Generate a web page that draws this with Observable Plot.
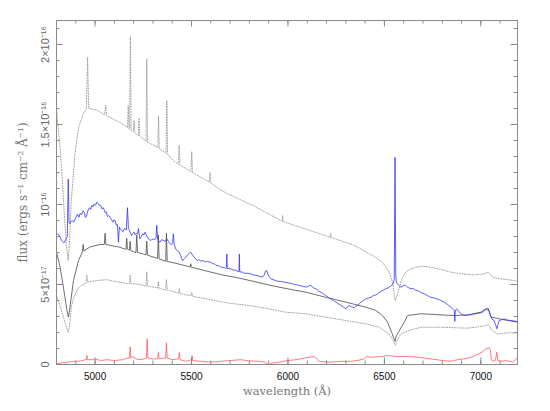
<!DOCTYPE html>
<html><head><meta charset="utf-8">
<script src="https://cdn.jsdelivr.net/npm/d3@7"></script>
<script src="https://cdn.jsdelivr.net/npm/@observablehq/plot@0.6"></script>
<style>body{margin:0;background:#fff}</style>
</head><body><div id="chart"></div>
<script>
// flux values in units of 1e-17 ergs s^-1 cm^-2 Å^-1
const xTicks = [5000, 5500, 6000, 6500, 7000];
const xMinorTicks = d3.range(4800, 7200, 100);
const yTicks = [0, 5, 10, 15, 20];
const yTickLabels = ["0", "5×10⁻¹⁷", "10⁻¹⁶", "1.5×10⁻¹⁶", "2×10⁻¹⁶"];
const yMinorTicks = d3.range(0, 22, 1);

// upper dotted model
const upperWave = [4800,4818,4827,4840,4852,4861,4868,4877,4896,4914,4940,4955,4961,4967,4974,5009,5050,5055,5060,5100,5147,5168,5172,5176,5179,5183,5187,5198,5202,5206,5224,5228,5232,5251,5264,5268,5272,5320,5325,5329,5333,5368,5372,5376,5406,5432,5436,5440,5493,5497,5501,5505,5579,5592,5596,5600,5652,5683,5824,5963,5970,5972,5975,6170,6220,6222,6225,6343,6440,6490,6525,6542,6550,6556,6562,6577,6590,6611,6637,6689,6741,6793,6845,6897,6966,7017,7038,7061,7104,7173,7190];
const upperFlux = [15.9,13.6,12.1,9.5,7.3,6.5,7.8,10.25,13.2,14.8,15.7,15.95,19.2,16.0,16.0,15.9,15.6,16.2,15.55,15.3,15.0,14.8,16.2,14.75,14.7,20.5,14.65,14.55,15.25,14.5,14.3,15.4,14.25,14.1,13.95,19.1,13.9,13.6,13.55,15.5,13.5,13.2,16.5,13.15,12.75,12.5,13.7,12.45,12.1,12.05,13.3,12.0,11.5,11.4,12.0,11.35,10.9,10.7,9.9,9.0,8.95,9.3,8.93,8.15,7.95,8.2,7.93,7.45,6.8,6.4,5.77,5.15,4.5,4.0,4.2,4.73,5.35,5.77,5.98,6.15,6.08,5.94,5.77,5.67,5.6,5.67,5.77,5.46,5.35,5.25,5.2];

// lower dotted model
const lowerWave = [4800,4820,4840,4855,4862,4870,4877,4890,4905,4920,4940,4953,4957,4961,5009,5061,5100,5147,5178,5182,5186,5233,5264,5268,5272,5320,5324,5328,5332,5366,5370,5374,5406,5433,5437,5441,5493,5497,5501,5505,5579,5683,5824,5989,6093,6196,6300,6404,6473,6525,6545,6556,6565,6585,6620,6689,6793,6931,7017,7038,7061,7087,7138,7190];
const lowerFlux = [4.3,3.6,2.8,2.2,2.0,2.7,3.6,4.2,4.6,4.85,5.0,5.1,5.6,5.15,5.25,5.3,5.2,5.1,5.05,5.6,5.05,5.0,4.9,5.8,4.9,4.8,4.78,5.2,4.76,4.65,5.3,4.63,4.56,4.45,4.75,4.43,4.3,4.28,4.5,4.26,4.1,3.85,3.65,3.27,3.17,2.96,2.75,2.54,2.33,1.9,1.5,1.2,1.5,1.9,2.1,2.33,2.33,2.27,2.4,2.5,2.1,1.9,1.98,1.98];

// black model
const modelWave = [4800,4815,4827,4844,4855,4862,4870,4888,4914,4935,4938,4942,4974,5026,5048,5052,5056,5078,5121,5160,5164,5168,5178,5182,5186,5212,5216,5220,5251,5264,5268,5272,5320,5324,5328,5332,5366,5370,5374,5393,5493,5496,5499,5565,5652,5738,5824,5911,6011,6093,6196,6300,6404,6455,6490,6516,6538,6550,6555,6562,6577,6603,6620,6689,6793,6862,6931,7000,7026,7038,7052,7078,7138,7190];
const modelFlux = [7.0,6.3,5.5,4.2,3.3,2.96,3.6,5.25,6.5,7.05,7.5,7.1,7.35,7.5,7.5,8.2,7.5,7.45,7.35,7.2,7.9,7.2,7.15,7.7,7.1,7.0,8.1,7.0,6.9,6.85,7.7,6.83,6.65,6.63,8.1,6.6,6.45,8.2,6.43,6.4,6.1,6.3,6.08,5.88,5.62,5.42,5.19,4.94,4.7,4.52,4.2,3.9,3.58,3.38,3.06,2.65,2.0,1.6,1.45,1.8,2.1,2.65,3.06,3.17,3.1,3.06,3.1,3.27,3.48,3.5,2.96,2.9,2.75,2.65];

// blue observed spectrum
const obsWave = [4800,4815,4827,4839,4850,4856,4861,4865,4868,4880,4889,4897,4909,4916,4923,4930,4937,4944,4949,4955,4962,4971,4977,4983,4989,4995,5002,5009,5016,5023,5029,5035,5043,5052,5058,5064,5071,5078,5085,5092,5098,5104,5110,5116,5121,5126,5130,5137,5144,5150,5156,5162,5168,5173,5178,5184,5190,5196,5202,5208,5214,5220,5225,5229,5233,5240,5247,5253,5259,5265,5272,5278,5285,5293,5303,5310,5316,5320,5324,5330,5337,5345,5355,5363,5372,5380,5389,5396,5402,5406,5410,5418,5427,5436,5444,5453,5462,5470,5480,5490,5496,5505,5514,5522,5531,5540,5548,5556,5565,5574,5583,5592,5600,5609,5618,5626,5635,5644,5652,5660,5669,5676,5681,5683,5685,5692,5704,5715,5730,5741,5746,5748,5750,5764,5775,5790,5807,5820,5842,5855,5868,5877,5884,5890,5897,5904,5911,5925,5946,5960,5980,5995,6011,6024,6040,6058,6075,6093,6105,6119,6132,6145,6158,6170,6183,6196,6209,6222,6235,6248,6261,6274,6287,6300,6308,6317,6326,6335,6344,6352,6361,6370,6378,6391,6404,6417,6430,6442,6455,6468,6481,6494,6507,6520,6533,6545,6551,6555,6559,6563,6568,6577,6585,6596,6607,6620,6637,6650,6660,6672,6690,6706,6724,6741,6758,6775,6793,6810,6827,6845,6856,6862,6865,6868,6876,6886,6897,6910,6922,6935,6948,6960,6974,6987,7000,7013,7026,7036,7043,7050,7056,7069,7076,7083,7089,7095,7108,7121,7138,7155,7172,7190];
const obsFlux = [8.2,8.06,7.75,7.6,7.85,8.0,11.6,8.9,8.8,9.0,8.9,9.1,9.4,9.2,9.45,9.35,9.6,9.5,9.2,9.25,9.6,9.8,9.7,9.94,9.85,10.04,9.95,10.15,10.05,9.94,9.95,9.73,9.8,9.5,9.55,9.25,9.3,9.2,9.05,8.9,9.05,9.0,8.7,8.75,7.65,8.6,8.5,8.4,8.3,8.45,8.5,8.4,9.8,8.5,8.4,8.2,8.06,8.2,8.27,8.1,8.2,8.15,8.5,8.1,7.85,8.0,8.17,8.1,8.27,8.1,7.96,7.85,7.75,7.8,7.85,7.8,7.9,8.7,7.85,7.7,7.65,7.8,7.75,7.7,7.85,7.7,7.54,7.5,7.6,8.17,7.5,7.23,7.1,7.02,6.8,6.5,6.6,6.7,6.85,6.95,7.02,6.85,6.7,6.6,6.5,6.55,6.45,6.5,6.46,6.4,6.45,6.4,6.4,6.3,6.3,6.2,6.19,6.15,6.1,6.05,6.08,6.0,6.05,6.9,6.0,6.0,5.98,5.9,5.9,5.8,5.8,6.9,5.8,5.77,5.7,5.7,5.67,5.6,5.56,5.5,5.46,5.6,5.85,5.88,5.6,5.45,5.35,5.3,5.2,5.2,5.15,5.12,5.08,5.04,5.0,4.94,4.9,4.83,4.9,4.94,4.8,4.73,4.6,4.52,4.42,4.31,4.2,4.1,4.0,3.9,3.8,3.7,3.6,3.48,3.6,3.69,3.62,3.58,3.55,3.65,3.69,3.8,3.9,4.0,4.1,4.15,4.2,4.3,4.35,4.45,4.56,4.65,4.73,4.8,4.9,5.04,5.3,12.95,5.5,5.1,5.04,4.94,4.83,4.9,4.98,4.83,4.73,4.75,4.65,4.63,4.5,4.42,4.3,4.2,4.15,4.1,4.0,3.9,3.75,3.58,3.45,3.375,2.69,3.4,3.48,3.3,3.17,3.1,3.06,3.1,3.1,3.15,3.17,3.2,3.23,3.3,3.44,3.4,3.375,3.1,2.85,2.75,2.5,2.23,2.5,2.75,2.8,2.85,2.78,2.75,2.72,2.69];

// red residual
const residWave = [4800,4830,4860,4890,4926,4950,4955,4957,4960,4990,5000,5030,5060,5100,5146,5165,5178,5182,5186,5200,5210,5240,5266,5270,5274,5300,5324,5328,5332,5366,5370,5374,5400,5433,5437,5441,5470,5500,5503,5506,5550,5600,5650,5700,5756,5800,5850,5877,5900,5920,5960,5997,6040,6084,6110,6135,6150,6160,6200,6222,6280,6326,6360,6395,6410,6430,6480,6525,6560,6620,6680,6741,6800,6845,6880,6914,6950,6983,7010,7026,7043,7050,7053,7060,7075,7083,7088,7110,7130,7164,7180,7190];
const residFlux = [0.05,0.1,0.15,0.2,0.22,0.3,0.3,0.56,0.3,0.3,0.35,0.25,0.3,0.25,0.3,0.4,0.4,1.1,0.4,0.5,0.35,0.3,0.4,1.6,0.4,0.35,0.35,0.75,0.35,0.4,1.35,0.4,0.3,0.35,0.75,0.3,0.2,0.3,0.56,0.25,0.2,0.15,0.2,0.25,0.3,0.22,0.2,0.15,0.0,0.1,0.15,0.25,0.3,0.4,0.45,0.5,0.35,0.2,0.15,0.15,0.2,0.2,0.25,0.35,0.5,0.45,0.5,0.56,0.5,0.5,0.45,0.35,0.25,0.2,0.3,0.35,0.45,0.63,0.8,0.98,1.04,0.9,0.4,0.2,0.25,0.77,0.25,0.2,0.25,0.15,0.3,0.45];

const W = 550, H = 411, mL = 56, mR = 33, mT = 20, mB = 47;
const innerW = W - mL - mR, innerH = H - mT - mB;
const frameColor = "#8a8a8a";
const series = (wv, fx) => wv.map((w, i) => ({w, f: fx[i]}));
const center = {textAnchor: "middle", lineAnchor: "middle"};

const chart = Plot.plot({
  width: W, height: H,
  marginLeft: mL, marginRight: mR, marginTop: mT, marginBottom: mB,
  x: {domain: [4800, 7190], axis: null},
  y: {domain: [0, 21.5], axis: null},
  style: {fontFamily: "'Liberation Sans', Arial, sans-serif", background: "#fff"},
  marks: [
    // inward ticks
    Plot.tickX(xMinorTicks, {x: d => d, insetTop: innerH - 3.5, stroke: frameColor}),
    Plot.tickX(xMinorTicks, {x: d => d, insetBottom: innerH - 3.5, stroke: frameColor}),
    Plot.tickX(xTicks, {x: d => d, insetTop: innerH - 6.5, stroke: frameColor}),
    Plot.tickX(xTicks, {x: d => d, insetBottom: innerH - 6.5, stroke: frameColor}),
    Plot.tickY(yMinorTicks, {y: d => d, insetRight: innerW - 3.5, stroke: frameColor}),
    Plot.tickY(yMinorTicks, {y: d => d, insetLeft: innerW - 3.5, stroke: frameColor}),
    Plot.tickY(yTicks, {y: d => d, insetRight: innerW - 6.5, stroke: frameColor}),
    Plot.tickY(yTicks, {y: d => d, insetLeft: innerW - 6.5, stroke: frameColor}),
    // spectra
    Plot.line(series(residWave, residFlux), {x: "w", y: "f", stroke: "#ff5a5a", strokeWidth: 0.8}),
    Plot.line(series(upperWave, upperFlux), {x: "w", y: "f", stroke: "#999", strokeWidth: 0.9, strokeDasharray: "1,1.6"}),
    Plot.line(series(lowerWave, lowerFlux), {x: "w", y: "f", stroke: "#999", strokeWidth: 0.9, strokeDasharray: "1,1.6"}),
    Plot.line(series(modelWave, modelFlux), {x: "w", y: "f", stroke: "#4a4a4a", strokeWidth: 0.8}),
    Plot.line(series(obsWave, obsFlux), {x: "w", y: "f", stroke: "#3333ff", strokeWidth: 0.8}),
    Plot.frame({stroke: frameColor}),
    // tick labels
    Plot.text(xTicks, {x: d => d, frameAnchor: "bottom", dy: 12, text: d => String(d), fontSize: 10, fill: "#111", ...center}),
    Plot.text(yTicks, {y: d => d, frameAnchor: "left", dx: -11, rotate: -90, text: (d, i) => yTickLabels[i], fontSize: 11, fill: "#666", ...center}),
    // axis titles
    Plot.text(["wavelength (Å)"], {frameAnchor: "bottom", dy: 27, text: d => d, fontSize: 11.5, fill: "#777", fontFamily: "'DejaVu Serif', serif", ...center}),
    Plot.text(["flux (ergs s⁻¹ cm⁻² Å⁻¹)"], {frameAnchor: "left", dx: -33, rotate: -90, text: d => d, fontSize: 12, fill: "#777", fontFamily: "'DejaVu Serif', serif", ...center})
  ]
});
document.getElementById("chart").appendChild(chart);
</script>
</body></html>
